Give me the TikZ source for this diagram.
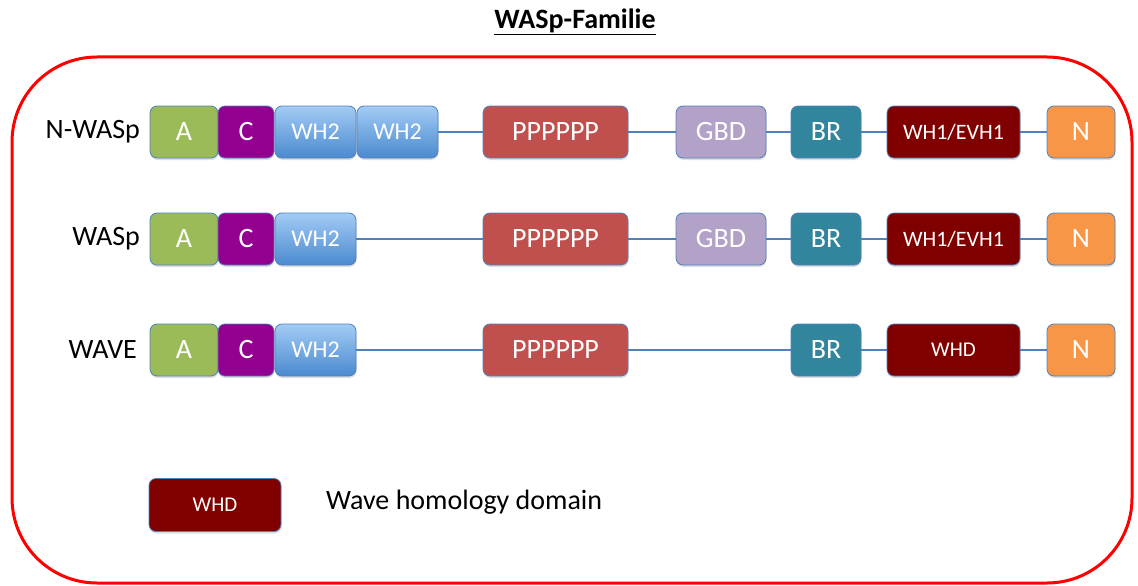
\documentclass[tikz,border=0pt]{standalone}
\usepackage{fontspec}
\setmainfont{Carlito}
\usetikzlibrary{shadows}
\definecolor{cA}{HTML}{9BBB59}
\definecolor{cC}{HTML}{93008F}
\definecolor{cWtop}{HTML}{A3CBF5}
\definecolor{cWbot}{HTML}{4A8ACF}
\definecolor{cP}{HTML}{C0504D}
\definecolor{cG}{HTML}{B3A2C7}
\definecolor{cBR}{HTML}{31859C}
\definecolor{cWH}{HTML}{800000}
\definecolor{cN}{HTML}{F79646}
\definecolor{cEdge}{HTML}{4F81BD}
\definecolor{cRed}{HTML}{FF0000}
\tikzset{
  dom/.style={draw=cEdge, line width=0.8pt, rounded corners=7pt, minimum height=52pt,
    inner sep=0pt, text=white, font=\fontsize{28}{30}\selectfont,
    drop shadow={shadow xshift=0.5pt, shadow yshift=-2pt, opacity=0.25}},
  domA/.style={dom, fill=cA, minimum width=68pt},
  domC/.style={dom, fill=cC, minimum width=56pt},
  domW/.style={dom, top color=cWtop, bottom color=cWbot, minimum width=81pt, font=\fontsize{24}{26}\selectfont},
  domP/.style={dom, fill=cP, minimum width=145pt},
  domG/.style={dom, fill=cG, minimum width=90pt},
  domBR/.style={dom, fill=cBR, minimum width=70pt},
  domWH/.style={dom, fill=cWH, minimum width=133pt, font=\fontsize{22}{24}\selectfont},
  domN/.style={dom, fill=cN, minimum width=68pt},
  link/.style={draw=cEdge, line width=1.5pt},
  lbl/.style={anchor=east, inner sep=0pt, font=\fontsize{28}{30}\selectfont},
}
\begin{document}
\begin{tikzpicture}[x=1pt,y=-1pt]
\useasboundingbox (0,0) rectangle (1138,586);
% title
\node (title) at (575,22) {\fontsize{28}{30}\selectfont\bfseries\underline{WASp-Familie}};
% frame
\draw[cRed, line width=3pt, rounded corners=85pt] (12,57) rectangle (1132,583);
% row 1
\node[lbl] (l1) at (140,132) {N-WASp};
\node[domA] (a1) at (184,132) {A};
\node[domC] (c1) at (246,132) {C};
\node[domW] (w1) at (315.5,132) {WH2};
\node[domW] (w1b) at (397.5,132) {WH2};
\node[domP] (p1) at (555.5,132) {PPPPPP};
\node[domG] (g1) at (721,132) {GBD};
\node[domBR] (b1) at (826,132) {BR};
\node[domWH] (h1) at (953.5,132) {WH1/EVH1};
\node[domN] (n1) at (1081,132) {N};
% row 2
\node[lbl] (l2) at (140,239) {WASp};
\node[domA] (a2) at (184,239) {A};
\node[domC] (c2) at (246,239) {C};
\node[domW] (w2) at (315.5,239) {WH2};
\node[domP] (p2) at (555.5,239) {PPPPPP};
\node[domG] (g2) at (721,239) {GBD};
\node[domBR] (b2) at (826,239) {BR};
\node[domWH] (h2) at (953.5,239) {WH1/EVH1};
\node[domN] (n2) at (1081,239) {N};
% row 3
\node[lbl] (l3) at (137,350) {WAVE};
\node[domA] (a3) at (184,350) {A};
\node[domC] (c3) at (246,350) {C};
\node[domW] (w3) at (315.5,350) {WH2};
\node[domP] (p3) at (555.5,350) {PPPPPP};
\node[domBR] (b3) at (826,350) {BR};
\node[domWH, font=\fontsize{21}{23}\selectfont] (h3) at (953.5,350) {WHD};
\node[domN] (n3) at (1081,350) {N};
% connectors
\draw[link] (w1b.east) -- (p1.west);
\draw[link] (p1.east) -- (g1.west);
\draw[link] (g1.east) -- (b1.west);
\draw[link] (b1.east) -- (h1.west);
\draw[link] (h1.east) -- (n1.west);
\draw[link] (w2.east) -- (p2.west);
\draw[link] (p2.east) -- (g2.west);
\draw[link] (g2.east) -- (b2.west);
\draw[link] (b2.east) -- (h2.west);
\draw[link] (h2.east) -- (n2.west);
\draw[link] (w3.east) -- (p3.west);
\draw[link] (p3.east) -- (b3.west);
\draw[link] (b3.east) -- (h3.west);
\draw[link] (h3.east) -- (n3.west);
% legend
\node[domWH, minimum width=132pt, minimum height=53pt, font=\fontsize{21}{23}\selectfont] (leg) at (215,505) {WHD};
\node[anchor=west, inner sep=0pt, font=\fontsize{28}{30}\selectfont] (legt) at (326,502) {Wave homology domain};
\end{tikzpicture}
\end{document}
